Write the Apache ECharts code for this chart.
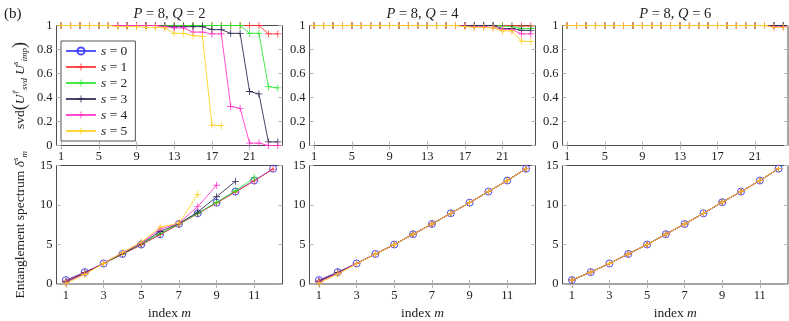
<!DOCTYPE html>
<html>
<head>
<meta charset="utf-8">
<script src="https://cdn.jsdelivr.net/npm/echarts@6/dist/echarts.min.js"></script>
<style>html,body{margin:0;padding:0;background:#fff}#main{width:789px;height:321px}</style>
</head>
<body>
<div id="main"></div>
<script>
(function () {
    'use strict';
    var FONT = 'Liberation Serif';
    // ---------------- data ----------------
    var seriesNames = ['s = 0', 's = 1', 's = 2', 's = 3', 's = 4', 's = 5'];
    var colors = ['#3a3aff', '#ff2e2e', '#27e627', '#262650', '#ff30c8', '#ffcf1a'];
    var panelTitles = ['{i|P} = 8, {i|Q} = 2', '{i|P} = 8, {i|Q} = 4', '{i|P} = 8, {i|Q} = 6'];
    var svdIndex = [1, 2, 3, 4, 5, 6, 7, 8, 9, 10, 11, 12, 13, 14, 15, 16, 17, 18, 19, 20, 21, 22, 23, 24];
    var svdTicks = [1, 5, 9, 13, 17, 21];
    var specIndex = [1, 2, 3, 4, 5, 6, 7, 8, 9, 10, 11, 12];
    var specTicks = [1, 3, 5, 7, 9, 11];

    // top row: svd(U_svd^† U_imp^s), s = 1..5 (s = 0 not drawn)
    var svdQ2S1 = [1, 1, 1, 1, 1, 1, 1, 1, 1, 1, 1, 1, 1, 1, 1, 1, 1, 1, 1, 1, 1, 1, 0.93, 0.93];
    var svdQ2S2 = [1, 1, 1, 1, 1, 1, 1, 1, 1, 1, 1, 1, 1, 1, 1, 1, 1, 1, 1, 1, 0.935, 0.935, 0.49, 0.48];
    var svdQ2S3 = [1, 1, 1, 1, 1, 1, 1, 1, 1, 1, 1, 0.995, 0.99, 0.99, 0.99, 0.99, 0.965, 0.965, 0.935, 0.935, 0.45, 0.43, 0.03, 0.03];
    var svdQ2S4 = [1, 1, 1, 1, 1, 1, 1, 1, 1, 1, 1, 0.99, 0.98, 0.98, 0.945, 0.945, 0.93, 0.93, 0.325, 0.31, 0.02, 0.02, 0, 0];
    var svdQ2S5 = [1, 1, 1, 1, 1, 1, 0.99, 0.99, 0.99, 0.985, 0.985, 0.98, 0.935, 0.935, 0.915, 0.91, 0.17, 0.165];

    var svdQ4S1 = [1, 1, 1, 1, 1, 1, 1, 1, 1, 1, 1, 1, 1, 1, 1, 1, 1, 1, 1, 1, 1, 1, 0.995, 0.995];
    var svdQ4S2 = [1, 1, 1, 1, 1, 1, 1, 1, 1, 1, 1, 1, 1, 1, 1, 1, 1, 1, 1, 1, 0.995, 0.99, 0.975, 0.975];
    var svdQ4S3 = [1, 1, 1, 1, 1, 1, 1, 1, 1, 1, 1, 1, 1, 1, 1, 1, 1, 1, 1, 1, 0.975, 0.975, 0.96, 0.96];
    var svdQ4S4 = [1, 1, 1, 1, 1, 1, 1, 1, 1, 1, 1, 1, 1, 1, 1, 1, 0.995, 0.99, 0.99, 0.985, 0.97, 0.965, 0.93, 0.93];
    var svdQ4S5 = [1, 1, 1, 1, 1, 1, 1, 1, 1, 1, 1, 1, 1, 1, 1, 1, 0.99, 0.985, 0.985, 0.98, 0.955, 0.955, 0.87, 0.865];

    var svdQ6S1 = [1, 1, 1, 1, 1, 1, 1, 1, 1, 1, 1, 1, 1, 1, 1, 1, 1, 1, 1, 1, 1, 1, 1, 1];
    var svdQ6S2 = [1, 1, 1, 1, 1, 1, 1, 1, 1, 1, 1, 1, 1, 1, 1, 1, 1, 1, 1, 1, 1, 1, 1, 1];
    var svdQ6S3 = [1, 1, 1, 1, 1, 1, 1, 1, 1, 1, 1, 1, 1, 1, 1, 1, 1, 1, 1, 1, 1, 1, 1, 1];
    var svdQ6S4 = [1, 1, 1, 1, 1, 1, 1, 1, 1, 1, 1, 1, 1, 1, 1, 1, 1, 1, 1, 1, 1, 1, 0.99, 0.99];
    var svdQ6S5 = [1, 1, 1, 1, 1, 1, 1, 1, 1, 1, 1, 1, 1, 1, 1, 1, 1, 1, 1, 1, 1, 1, 0.985, 0.985];

    // bottom row: entanglement spectrum
    var specQ2S0 = [0.5, 1.5, 2.6, 3.8, 5.0, 6.3, 7.6, 8.95, 10.3, 11.7, 13.1, 14.6];
    var specQ2S1 = [0.4, 1.45, 2.6, 3.75, 4.95, 6.25, 7.55, 8.9, 10.25, 11.65, 13.05, 14.55];
    var specQ2S2 = [0.25, 1.35, 2.6, 3.8, 5.05, 6.4, 7.6, 8.95, 10.35, 11.8, 13.45];
    var specQ2S3 = [0.3, 1.4, 2.6, 3.85, 5.1, 6.65, 7.65, 9.1, 11.05, 13.0];
    var specQ2S4 = [0.2, 1.3, 2.65, 3.95, 5.2, 6.95, 7.7, 9.8, 12.5];
    var specQ2S5 = [0.05, 1.2, 2.6, 4.0, 5.3, 7.2, 7.7, 11.35];

    var specQ4S0 = [0.5, 1.5, 2.6, 3.8, 5.0, 6.3, 7.6, 8.95, 10.3, 11.7, 13.1, 14.6];
    var specQ4S1 = [0.4, 1.45, 2.6, 3.8, 5.0, 6.3, 7.6, 8.95, 10.3, 11.7, 13.1, 14.6];
    var specQ4S2 = [0.3, 1.4, 2.6, 3.8, 5.0, 6.3, 7.6, 8.95, 10.3, 11.7, 13.1, 14.6];
    var specQ4S3 = [0.35, 1.45, 2.6, 3.8, 5.0, 6.3, 7.6, 8.95, 10.3, 11.7, 13.1, 14.6];
    var specQ4S4 = [0.25, 1.35, 2.6, 3.8, 5.0, 6.3, 7.6, 8.95, 10.3, 11.7, 13.1, 14.6];
    var specQ4S5 = [0.1, 1.25, 2.55, 3.8, 5.0, 6.3, 7.6, 8.95, 10.3, 11.7, 13.1, 14.6];

    // Q = 6: all six s coincide
    var specQ6 = [0.5, 1.5, 2.6, 3.8, 5.0, 6.3, 7.6, 8.95, 10.35, 11.7, 13.1, 14.6];

    // ---------------- layout ----------------
    var gridLefts = [56.5, 309.5, 562.5];
    var gridWidths = [226, 226, 225.5];
    var topRow = { top: 25.5, height: 120 };
    var botRow = { top: 165.5, height: 120 };
    var plus = 'path://M0,4.4H10V5.6H0Z M4.4,0H5.6V10H4.4Z';

    var grids = [], xAxes = [], yAxes = [], series = [];
    var tickStyle = { show: true, inside: true, length: 4, lineStyle: { color: '#b4b4b4', width: 1 } };
    var labelStyle = { fontFamily: FONT, fontSize: 12.5, color: '#222' };
    var rich = {
        r: { fontFamily: FONT, fontSize: 13.5, color: '#222', verticalAlign: 'middle', lineHeight: 18 },
        i: { fontFamily: FONT, fontSize: 13.5, fontStyle: 'italic', color: '#222', verticalAlign: 'middle', lineHeight: 18 },
        p: { fontFamily: FONT, fontSize: 18, color: '#222', verticalAlign: 'middle', lineHeight: 18 },
        sup: { fontFamily: FONT, fontSize: 9, fontStyle: 'italic', color: '#222', verticalAlign: 'top', lineHeight: 10 },
        sub: { fontFamily: FONT, fontSize: 9, fontStyle: 'italic', color: '#222', verticalAlign: 'bottom', lineHeight: 10 }
    };

    function addPanel(g, row, xMax, xTicks, yMax, yInterval, xName, yName) {
        grids.push({
            left: gridLefts[g % 3], width: gridWidths[g % 3], top: row.top, height: row.height,
            show: true, borderColor: '#4d4d4d', borderWidth: 1, backgroundColor: 'transparent'
        });
        var base = {
            type: 'value', gridIndex: g, min: 0.5, max: xMax,
            splitLine: { show: false }, axisLine: { show: false },
            axisTick: Object.assign({ customValues: xTicks }, tickStyle)
        };
        xAxes.push(Object.assign({}, base, {
            position: 'bottom',
            axisLabel: Object.assign({ customValues: xTicks, margin: 5 }, labelStyle),
            name: xName, nameLocation: 'middle', nameGap: 20,
            nameTextStyle: { rich: rich }
        }));
        xAxes.push(Object.assign({}, base, { position: 'top', axisLabel: { show: false } }));
        var ybase = {
            type: 'value', gridIndex: g, min: 0, max: yMax, interval: yInterval,
            splitLine: { show: false }, axisLine: { show: false }, axisTick: tickStyle
        };
        yAxes.push(Object.assign({}, ybase, {
            position: 'left',
            axisLabel: Object.assign({ margin: 4 }, labelStyle),
            name: yName, nameLocation: 'middle', nameRotate: 90, nameGap: 27,
            nameTextStyle: { rich: rich }
        }));
        yAxes.push(Object.assign({}, ybase, { position: 'right', axisLabel: { show: false } }));
    }

    function addSeries(g, s, xs, ys) {
        var c = colors[s];
        var item = {
            type: 'line', name: seriesNames[s], xAxisIndex: g * 2, yAxisIndex: g * 2,
            data: ys.map(function (v, i) { return [xs[i], v]; }),
            symbol: plus, symbolSize: 7, showAllSymbol: true, clip: false,
            lineStyle: { color: c, width: 1, opacity: 0.85 },
            itemStyle: { color: c, opacity: 0.9 },
            emphasis: { disabled: true }, z: 2 + s
        };
        if (s === 0) {
            item.symbol = 'circle';
            item.itemStyle = { color: 'rgba(255,255,255,0)', borderColor: c, borderWidth: 1, opacity: 0.9 };
        }
        series.push(item);
    }

    var svdName = '{r|svd}{p|(}{i|U}{sup|†}{sub|svd}{i| U}{sup|s}{sub|imp}{p|)}';
    var specName = '{r|Entanglement spectrum }{i|δ}{sup|s}{sub|m}';
    var idxName = '{r|index }{i|m}';

    addPanel(0, topRow, 24.5, svdTicks, 1, 0.2, '', svdName);
    addPanel(1, topRow, 24.5, svdTicks, 1, 0.2, '', '');
    addPanel(2, topRow, 24.5, svdTicks, 1, 0.2, '', '');
    addPanel(3, botRow, 12.5, specTicks, 15, 5, idxName, specName);
    addPanel(4, botRow, 12.5, specTicks, 15, 5, idxName, '');
    addPanel(5, botRow, 12.5, specTicks, 15, 5, idxName, '');

    [svdQ2S1, svdQ2S2, svdQ2S3, svdQ2S4, svdQ2S5].forEach(function (d, i) { addSeries(0, i + 1, svdIndex, d); });
    [svdQ4S1, svdQ4S2, svdQ4S3, svdQ4S4, svdQ4S5].forEach(function (d, i) { addSeries(1, i + 1, svdIndex, d); });
    [svdQ6S1, svdQ6S2, svdQ6S3, svdQ6S4, svdQ6S5].forEach(function (d, i) { addSeries(2, i + 1, svdIndex, d); });
    [specQ2S0, specQ2S1, specQ2S2, specQ2S3, specQ2S4, specQ2S5].forEach(function (d, i) { addSeries(3, i, specIndex, d); });
    [specQ4S0, specQ4S1, specQ4S2, specQ4S3, specQ4S4, specQ4S5].forEach(function (d, i) { addSeries(4, i, specIndex, d); });
    [specQ6, specQ6, specQ6, specQ6, specQ6, specQ6].forEach(function (d, i) { addSeries(5, i, specIndex, d); });

    var graphics = [{
        type: 'text', x: 4, y: 14,
        style: { text: '(b)', fontFamily: FONT, fontSize: 15, fill: '#222', align: 'left', verticalAlign: 'middle' }
    }];
    panelTitles.forEach(function (t, g) {
        graphics.push({
            type: 'text', x: gridLefts[g] + gridWidths[g] / 2, y: 14,
            style: {
                text: t, fontFamily: FONT, fontSize: 14.5, fill: '#222', align: 'center', verticalAlign: 'middle',
                rich: { i: { fontFamily: FONT, fontSize: 14.5, fontStyle: 'italic', fill: '#222' } }
            }
        });
    });

    var chart = echarts.init(document.getElementById('main'), null, { renderer: 'canvas' });
    chart.setOption({
        animation: false,
        backgroundColor: '#fff',
        grid: grids,
        xAxis: xAxes,
        yAxis: yAxes,
        series: series,
        graphic: graphics,
        legend: {
            data: seriesNames, orient: 'vertical', left: 61, top: 41,
            backgroundColor: '#fff', borderColor: '#555', borderWidth: 1,
            padding: [3, 8, 3, 4], itemGap: 2, itemWidth: 30, itemHeight: 9,
            selectedMode: false,
            formatter: function (name) { return '{i|s}' + name.slice(1); },
            textStyle: {
                fontFamily: FONT, fontSize: 13.5, color: '#222',
                rich: { i: { fontFamily: FONT, fontSize: 13.5, fontStyle: 'italic', color: '#222' } }
            }
        }
    });
})();
</script>
</body>
</html>
